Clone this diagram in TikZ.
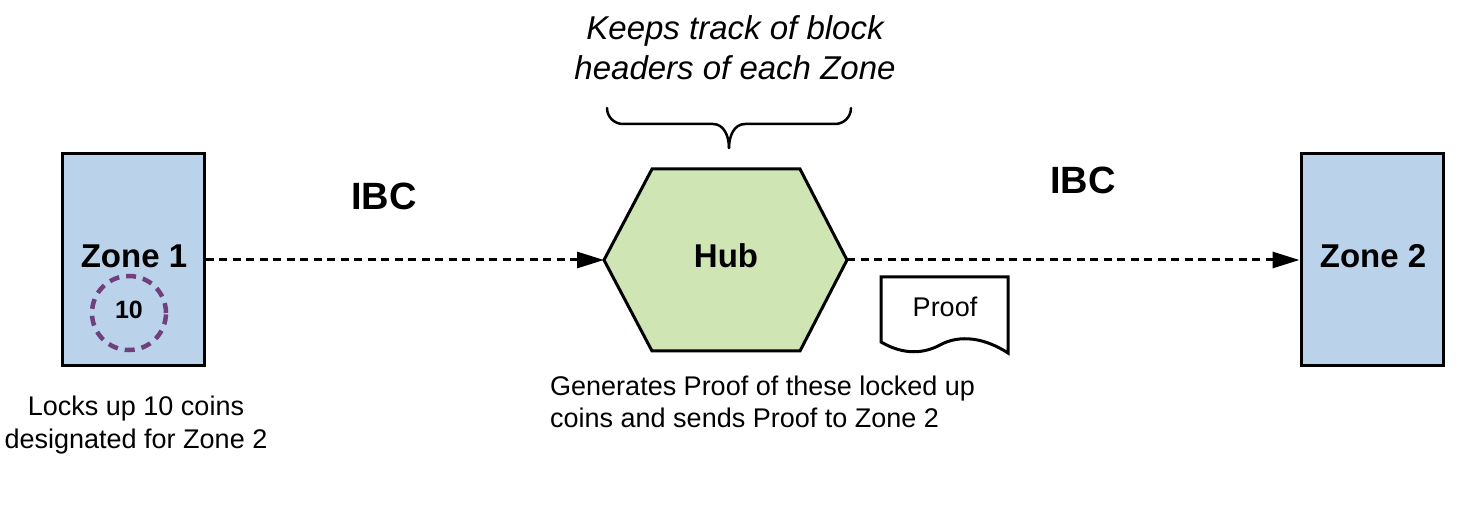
\documentclass[tikz,border=0pt]{standalone}
\usepackage{fontspec}
\setmainfont{Liberation Sans}
\usetikzlibrary{arrows.meta}
\definecolor{zonefill}{HTML}{BAD3EA}
\definecolor{hubfill}{HTML}{CFE5B4}
\definecolor{coinline}{HTML}{713F7C}
\tikzset{
  zonebox/.style={draw=black, line width=3pt, fill=zonefill, minimum width=142pt, minimum height=212pt, inner sep=0pt},
  boldlabel/.style={font=\fontsize{33}{38}\selectfont\bfseries, inner sep=0pt},
  ibclabel/.style={font=\fontsize{38}{44}\selectfont\bfseries, inner sep=0pt},
  bodytext/.style={font=\fontsize{27}{32.5}\selectfont, inner sep=0pt},
  ibcarrow/.style={line width=3pt, dash pattern=on 8pt off 5.5pt, -{Triangle[length=27pt,width=16pt]}},
}
\begin{document}
\begin{tikzpicture}[x=1pt,y=-1pt]
\useasboundingbox (0,0) rectangle (1478,510);
% zones
\node[zonebox] (z1) at (133,260) {};
\node[zonebox] (z2) at (1372,260) {};
\node[boldlabel] (z1t) at (134,256) {Zone 1};
\node[boldlabel] (z2t) at (1373,256) {Zone 2};
% coin
\node[draw=coinline, line width=4.5pt, dash pattern=on 10pt off 7pt, circle, minimum size=74pt, inner sep=0pt] (coin) at (129,313) {};
\node[font=\fontsize{25}{30}\selectfont\bfseries, inner sep=0pt] (coint) at (129,310) {10};
% hub
\draw[line width=3pt, fill=hubfill, line join=miter] (604,260) -- (652,169) -- (800,169) -- (847,260) -- (800,351) -- (652,351) -- cycle;
\coordinate (hubL) at (604,260);
\coordinate (hubR) at (847,260);
\node[boldlabel] (hub) at (726,256) {Hub};
% brace
\draw[line width=2.5pt, line cap=round] (607,108) to[out=-90,in=180] (623,124) -- (713,124) to[out=0,in=90] (729,148);
\draw[line width=2.5pt, line cap=round] (851,108) to[out=-90,in=0] (835,124) -- (745,124) to[out=180,in=90] (729,148);
\node[font=\fontsize{33}{40}\selectfont\itshape, align=center, inner sep=0pt] (keeps) at (735,48) {Keeps track of block\\headers of each Zone};
% arrows
\draw[ibcarrow] (z1.east) -- (hubL);
\draw[ibcarrow] (hubR) -- (z2.west);
\node[ibclabel] (ibc1) at (384,196) {IBC};
\node[ibclabel] (ibc2) at (1083,180) {IBC};
% proof document
\draw[line width=3pt, fill=white, line join=miter] (881,277) -- (1008,277) -- (1008,353) .. controls (985,338) and (960,334) .. (940,345) .. controls (925,353) and (905,356) .. (881,342) -- cycle;
\node[bodytext] (proof) at (945,307) {Proof};
% texts
\node[bodytext, align=center] (locks) at (136,425) {Locks up 10 coins\\designated for Zone 2};
\node[bodytext, align=left, anchor=west] (gen) at (550,402) {Generates Proof of these locked up\\coins and sends Proof to Zone 2};
\end{tikzpicture}
\end{document}
